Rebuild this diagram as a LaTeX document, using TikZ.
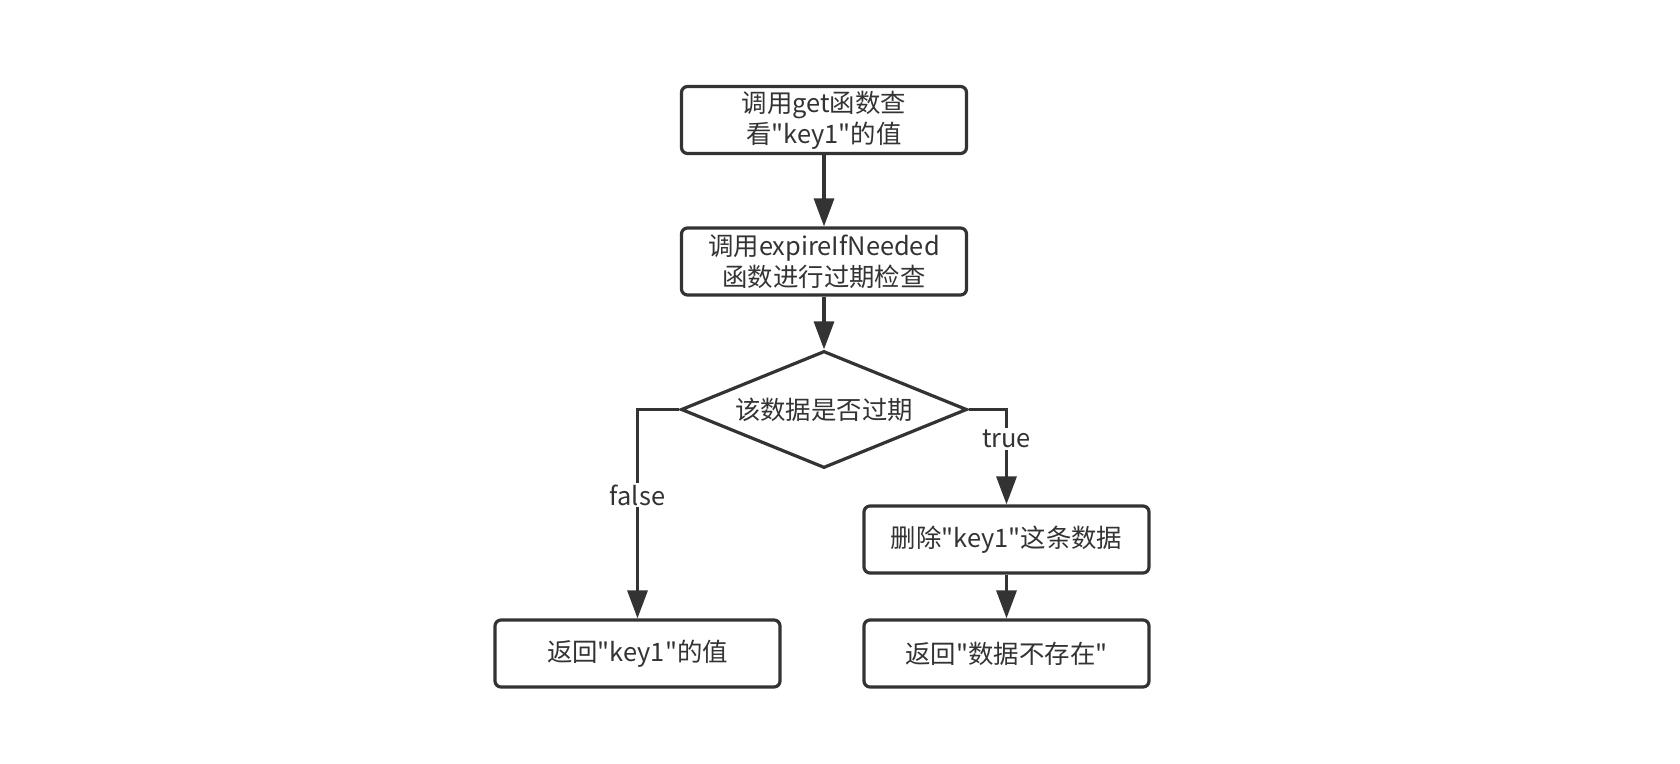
\documentclass[tikz,border=0pt]{standalone}
\usepackage{fontspec}
\newfontfamily\cjk{Noto Sans CJK SC}
\usetikzlibrary{shapes.geometric,arrows.meta}
\definecolor{ink}{HTML}{333333}
\tikzset{
  box/.style={draw=ink, line width=1.6pt, rounded corners=3pt, fill=white,
    minimum width=142.5pt, minimum height=33.5pt, inner sep=0pt,
    align=center, text=ink, font=\cjk\fontsize{12.7}{15.5}\selectfont},
  dec/.style={draw=ink, line width=1.6pt, diamond, aspect=2.44, inner sep=0pt,
    minimum width=143pt, minimum height=58.5pt, fill=white, text=ink,
    font=\cjk\fontsize{12.7}{15.5}\selectfont},
  arr/.style={draw=ink, line width=1.6pt, -{Triangle[length=14pt,width=10pt]}},
  lab/.style={fill=white, text=ink, inner sep=1pt, font=\cjk\fontsize{12.7}{15.5}\selectfont}
}
\begin{document}
\begin{tikzpicture}[x=0.5pt,y=-0.5pt]
\useasboundingbox[fill=white] (0,0) rectangle (1680,764);
\node[box] (b1) at (824,120) {调用get函数查\\看"key1"的值};
\node[box] (b2) at (824,261.5) {调用expireIfNeeded\\函数进行过期检查};
\node[dec] (d) at (824,409.5) {该数据是否过期};
\node[box] (b3) at (1006.5,539.5) {删除"key1"这条数据};
\node[box] (b4) at (637.5,653.5) {返回"key1"的值};
\node[box] (b5) at (1006.5,653.5) {返回"数据不存在"};
\draw[arr] (b1.south) -- (b2.north);
\draw[arr] (b2.south) -- (d.north);
\draw[arr] (d.west) -| (b4.north);
\draw[arr] (d.east) -| (b3.north);
\draw[arr] (b3.south) -- (b5.north);
\node[lab] (lf) at (637.5,495) {false};
\node[lab] (lt) at (1006.5,439) {true};
\end{tikzpicture}
\end{document}
